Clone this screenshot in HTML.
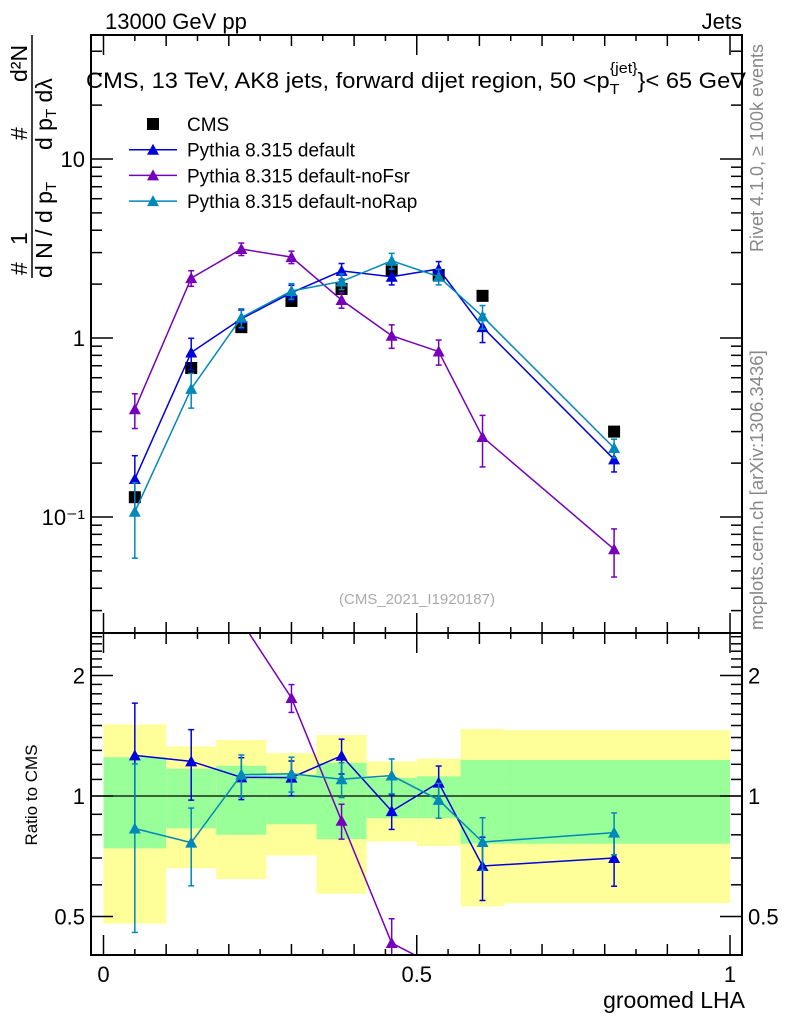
<!DOCTYPE html>
<html><head><meta charset="utf-8"><style>
html,body{margin:0;background:#fff;overflow:hidden;width:786px;height:1024px;}
svg{display:block;font-family:"Liberation Sans",sans-serif;}
</style></head><body>
<svg id="c" width="786" height="1024" xmlns="http://www.w3.org/2000/svg">
<g id="bands"></g>
<g id="marks"></g>
<g id="axes"></g>
<text x="105" y="29" font-size="22">13000 GeV pp</text>
<text x="742" y="29" font-size="22" text-anchor="end">Jets</text>
<text x="86" y="88" font-size="22" textLength="660" lengthAdjust="spacingAndGlyphs">CMS, 13 TeV, AK8 jets, forward dijet region, 50 &lt;p<tspan font-size="15" dy="6">T</tspan><tspan font-size="15" dx="-9" dy="-21">{jet}</tspan><tspan dy="15">}&lt; 65 GeV</tspan></text>
<text transform="translate(763,252) rotate(-90)" font-size="18" fill="#888">Rivet 4.1.0, ≥ 100k events</text>
<text transform="translate(763,630) rotate(-90)" font-size="18.5" fill="#888">mcplots.cern.ch [arXiv:1306.3436]</text>
<text x="417" y="604" font-size="15" fill="#aaa" text-anchor="middle">(CMS_2021_I1920187)</text>
<g font-size="23">
<text transform="translate(27,275) rotate(-90)">#</text>
<text transform="translate(27,245) rotate(-90)">1</text>
<text transform="translate(52,278) rotate(-90)">d N / d p<tspan font-size="15" dy="4">T</tspan></text>
<text transform="translate(27,140) rotate(-90)">#</text>
<text transform="translate(27,82) rotate(-90)">d²N</text>
<text transform="translate(52,150) rotate(-90)">d p<tspan font-size="15" dy="4">T</tspan><tspan dy="-4"> dλ</tspan></text>
<line x1="32" y1="278" x2="32" y2="35" stroke="#000" stroke-width="1.5"/>
</g>
<text transform="translate(37,795) rotate(-90)" font-size="17" text-anchor="middle">Ratio to CMS</text>
<text x="745" y="1008" font-size="23" text-anchor="end">groomed LHA</text>
<g id="legend"></g>
</svg>
<script>
const xs = [0.05,0.14,0.22,0.30,0.38,0.46,0.535,0.605,0.815];
const cms = [0.129,0.68,1.15,1.61,1.88,2.4,2.25,1.72,0.30];
const pyDef = [0.163,0.83,1.28,1.79,2.37,2.2,2.43,1.15,0.21];
const pyDefErr = [0.35,0.2,0.12,0.1,0.1,0.1,0.1,0.18,0.15];
const pyFsr = [0.40,2.16,3.14,2.83,1.63,1.03,0.84,0.28,0.066];
const pyFsrErr = [0.22,0.1,0.08,0.08,0.1,0.15,0.16,0.32,0.3];
const pyRap = [0.107,0.52,1.3,1.83,2.07,2.7,2.2,1.32,0.243];
const pyRapErr = [0.45,0.22,0.12,0.1,0.1,0.1,0.1,0.15,0.12];
const binEdges = [0,0.10,0.18,0.26,0.34,0.42,0.50,0.57,0.64,1.0];
const greenUp = [1.25,1.17,1.19,1.13,1.21,1.11,1.12,1.23,1.23];
const greenDn = [0.74,0.83,0.80,0.85,0.78,0.88,0.88,0.76,0.76];
const yellowUp = [1.51,1.33,1.38,1.28,1.42,1.22,1.24,1.47,1.46];
const yellowDn = [0.48,0.66,0.62,0.71,0.57,0.77,0.75,0.53,0.54];
const mainTicks = ["10","1","10⁻¹"];
const ratioTicks = ["2","1","0.5"];

const NS="http://www.w3.org/2000/svg";
const L=91,R=742,T=35,MB=633,RB=955;
const X=v=>103.5+626.5*v;
const Y=v=>338-179*Math.log10(v);
const RY=v=>796-120.5*Math.log2(v);
function el(p,t,a){const e=document.createElementNS(NS,t);for(const k in a)e.setAttribute(k,a[k]);p.appendChild(e);return e;}
const bands=document.getElementById('bands'),marks=document.getElementById('marks'),axes=document.getElementById('axes');

for(let i=0;i<xs.length;i++){
  const x0=X(binEdges[i]),x1=X(binEdges[i+1]);
  let r=el(bands,'rect',{x:x0,y:RY(yellowUp[i]),width:x1-x0,height:RY(yellowDn[i])-RY(yellowUp[i]),fill:'#ffff99'});
  
  
  r=el(bands,'rect',{x:x0,y:RY(greenUp[i]),width:x1-x0,height:RY(greenDn[i])-RY(greenUp[i]),fill:'#99ff99'});
  
  
}
el(bands,'line',{x1:L,x2:R,y1:RY(1),y2:RY(1),stroke:'#000','stroke-width':1.3});

const defs=el(document.getElementById('c'),'defs',{});
el(el(defs,'clipPath',{id:'cm'}),'rect',{x:L,y:T,width:R-L,height:MB-T});
el(el(defs,'clipPath',{id:'cr'}),'rect',{x:L,y:MB,width:R-L,height:RB-MB});

function tri(g,x,y,c){return el(g,'path',{d:`M${x-6},${y+5}L${x+6},${y+5}L${x},${y-6}Z`,fill:c});}
function series(vals,errs,color,name){
  const gm=el(marks,'g',{'clip-path':'url(#cm)'});
  
  
  el(gm,'polyline',{points:xs.map((x,i)=>X(x)+','+Y(vals[i])).join(' '),fill:'none',stroke:color,'stroke-width':1.5});
  const gr=el(marks,'g',{'clip-path':'url(#cr)'});
  
  
  el(gr,'polyline',{points:xs.map((x,i)=>X(x)+','+RY(vals[i]/cms[i])).join(' '),fill:'none',stroke:color,'stroke-width':1.5});
  xs.forEach((x,i)=>{
    const px=X(x);
    [[gm,Y,vals[i],T,MB],[gr,RY,vals[i]/cms[i],MB,RB]].forEach(([g,f,v,lo,hi])=>{
      const yc=f(v); if(yc<lo||yc>hi) return;
      const y1=f(v*(1+errs[i])),y2=f(v*(1-errs[i]));
      el(g,'line',{x1:px,x2:px,y1:y1,y2:y2,stroke:color,'stroke-width':1.5});
      el(g,'line',{x1:px-3,x2:px+3,y1:y1,y2:y1,stroke:color,'stroke-width':1.5});
      el(g,'line',{x1:px-3,x2:px+3,y1:y2,y2:y2,stroke:color,'stroke-width':1.5});
      const t=tri(g,px,yc,color);
      
      
    });
  });
}
xs.forEach((x,i)=>{
  const s=el(marks,'rect',{x:X(x)-6,y:Y(cms[i])-6,width:12,height:12,fill:'#000'});
  
  
});
series(pyFsr,pyFsrErr,'#7700bb','pythia-nofsr');
series(pyDef,pyDefErr,'#0000dd','pythia-default');
series(pyRap,pyRapErr,'#0088bb','pythia-norap');

el(axes,'rect',{x:L,y:T,width:R-L,height:MB-T,fill:'none',stroke:'#000','stroke-width':2});
el(axes,'rect',{x:L,y:MB,width:R-L,height:RB-MB,fill:'none',stroke:'#000','stroke-width':2});
[10,1,0.1].forEach((d,k)=>{
  el(axes,'line',{x1:L,x2:L+22,y1:Y(d),y2:Y(d),stroke:'#000','stroke-width':1.5});
  el(axes,'line',{x1:R,x2:R-22,y1:Y(d),y2:Y(d),stroke:'#000','stroke-width':1.5});
  const t=el(axes,'text',{x:L-6,y:Y(d)+8,'font-size':22,'text-anchor':'end'});
  t.textContent=mainTicks[k];
  
  
});
for(let e=-2;e<=1;e++)for(let m=2;m<=9;m++){const v=m*Math.pow(10,e),y=Y(v);if(y<T||y>MB)continue;
  el(axes,'line',{x1:L,x2:L+11,y1:y,y2:y,stroke:'#000','stroke-width':1.5});
  el(axes,'line',{x1:R,x2:R-11,y1:y,y2:y,stroke:'#000','stroke-width':1.5});}
[2,1,0.5].forEach((d,k)=>{
  el(axes,'line',{x1:L,x2:L+22,y1:RY(d),y2:RY(d),stroke:'#000','stroke-width':1.5});
  el(axes,'line',{x1:R,x2:R-22,y1:RY(d),y2:RY(d),stroke:'#000','stroke-width':1.5});
  let t=el(axes,'text',{x:L-6,y:RY(d)+8,'font-size':22,'text-anchor':'end'});t.textContent=ratioTicks[k];
  
  
  t=el(axes,'text',{x:R+6,y:RY(d)+8,'font-size':22});t.textContent=ratioTicks[k];
  
  
});
for(let v=0.4;v<2.6;v+=0.1){const y=RY(v);if(y<MB||y>RB||Math.abs(v-1)<.01||Math.abs(v-0.5)<.01||Math.abs(v-2)<.01)continue;
  el(axes,'line',{x1:L,x2:L+11,y1:y,y2:y,stroke:'#000','stroke-width':1.5});
  el(axes,'line',{x1:R,x2:R-11,y1:y,y2:y,stroke:'#000','stroke-width':1.5});}
for(let k=0;k<=20;k++){const v=k*0.05,x=X(v),len=(k%10==0)?20:(k%2==0?11:6);
  [[MB,-1],[RB,-1],[T,1],[MB,1]].forEach(([y,s])=>el(axes,'line',{x1:x,x2:x,y1:y,y2:y+s*len,stroke:'#000','stroke-width':1.5}));}
["0","0.5","1"].forEach((s,k)=>{const t=el(axes,'text',{x:X(k*0.5),y:982,'font-size':22,'text-anchor':'middle'});t.textContent=s;
  
  });

const lg=document.getElementById('legend');
const items=[['CMS','#000',0],['Pythia 8.315 default','#0000dd',1],['Pythia 8.315 default-noFsr','#7700bb',1],['Pythia 8.315 default-noRap','#0088bb',1]];
items.forEach((it,k)=>{const y=124+k*25.7;
  const g=el(lg,'g',{});
  
  
  if(it[2]){el(g,'line',{x1:129,x2:177,y1:y,y2:y,stroke:it[1],'stroke-width':1.5});tri(g,153,y,it[1]);}
  else el(g,'rect',{x:147,y:y-6,width:12,height:12,fill:'#000'});
  const t=el(g,'text',{x:187,y:y+7,'font-size':19});t.textContent=it[0];});
</script>
</body></html>
